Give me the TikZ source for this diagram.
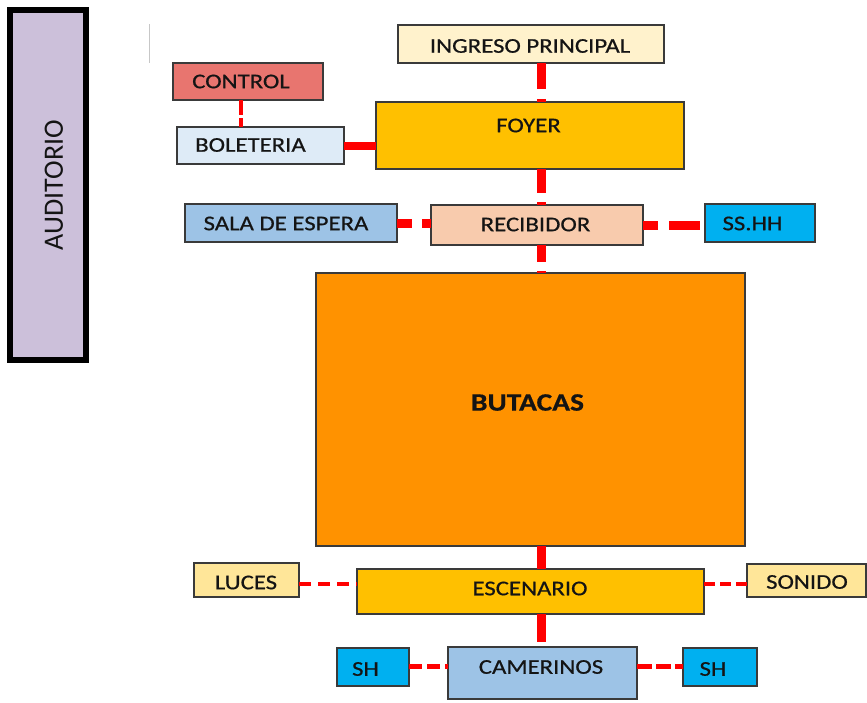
\documentclass[tikz,border=0pt]{standalone}
\usepackage{fontspec}
\setmainfont{Carlito}[FakeStretch=1.18, FakeBold=0.6]
\newfontfamily\audfont{Carlito}
\definecolor{txt}{HTML}{141414}
\definecolor{bord}{HTML}{3A3A3A}
\definecolor{cIngreso}{HTML}{FFF2CC}
\definecolor{cControl}{RGB}{232,117,111}
\definecolor{cBolet}{HTML}{DEEBF7}
\definecolor{cGold}{HTML}{FFC000}
\definecolor{cBlue}{HTML}{9DC3E6}
\definecolor{cRecib}{HTML}{F8CBAD}
\definecolor{cCyan}{HTML}{00B0F0}
\definecolor{cOrange}{HTML}{FF9200}
\definecolor{cLight}{HTML}{FFE699}
\definecolor{cAud}{HTML}{CCC0DA}
\definecolor{lred}{HTML}{FF0000}
\newcommand\bx[6]{\node[box, fill=#2, minimum width={(#5-#3)*1pt}, minimum height={(#6-#4)*1pt}] (#1) at ({(#3+#5)/2},{(#4+#6)/2}) {};}
\begin{document}
\begin{tikzpicture}[x=1pt,y=-1pt,
  box/.style={draw=bord, line width=1.4pt, inner sep=0pt, outer sep=0pt, rectangle},
  lbl/.style={inner sep=0pt, text=txt, font=\fontsize{21}{25}\selectfont},
  thickl/.style={draw=lred, line width=9pt},
  thinl/.style={draw=lred, line width=3.5pt},
  midl/.style={draw=lred, line width=5pt}]
\useasboundingbox (0,0) rectangle (867,702);
% side panel
\node[draw=black, line width=6pt, fill=cAud, inner sep=0pt, minimum width=76pt, minimum height=350pt] (aud) at (48,185) {};
\node[inner sep=0pt, text=txt, rotate=90, font=\audfont\fontsize{28}{32}\selectfont] (taud) at (54,185) {AUDITORIO};
\draw[black!22, line width=1pt] (149,24) -- (149,63);
% boxes
\bx{ingreso}{cIngreso}{398}{25}{664}{63}
\bx{control}{cControl}{173}{63}{323}{100}
\bx{bolet}{cBolet}{177}{127}{344}{164}
\bx{foyer}{cGold}{376}{102}{684}{169}
\bx{sala}{cBlue}{185}{204}{397}{242}
\bx{recib}{cRecib}{431}{205}{643}{245}
\bx{sshh}{cCyan}{705}{204}{815}{242}
\bx{butacas}{cOrange}{316}{273}{745}{546}
\bx{luces}{cLight}{194}{563}{299}{597}
\bx{escen}{cGold}{357}{569}{704}{614}
\bx{sonido}{cLight}{747}{564}{866}{597}
\bx{shA}{cCyan}{337}{648}{409}{686}
\bx{camer}{cBlue}{448}{647}{637}{699}
\bx{shB}{cCyan}{683}{648}{757}{686}
% labels
\node[lbl] (tingreso) at (530,46) {INGRESO PRINCIPAL};
\node[lbl] (tcontrol) at (241,81.5) {CONTROL};
\node[lbl] (tbolet) at (250.5,145) {BOLETERIA};
\node[lbl] (tfoyer) at (528.5,125.5) {FOYER};
\node[lbl] (tsala) at (286,223.5) {SALA DE ESPERA};
\node[lbl] (trecib) at (535.5,224.5) {RECIBIDOR};
\node[lbl] (tsshh) at (752.5,223.5) {SS.HH};
\node[lbl, font=\bfseries\fontsize{25}{29}\selectfont] (tbut) at (527.5,402.5) {BUTACAS};
\node[lbl] (tluces) at (246,582.5) {LUCES};
\node[lbl] (tescen) at (530,588.5) {ESCENARIO};
\node[lbl] (tsonido) at (807,582) {SONIDO};
\node[lbl] (tshA) at (365.5,669) {SH};
\node[lbl] (tcamer) at (541,667) {CAMERINOS};
\node[lbl] (tshB) at (713,669) {SH};
% connectors
\coordinate (ax) at (541,0);
\draw[thickl, dash pattern=on 26pt off 10pt] (ingreso.south -| ax) -- (foyer.north -| ax);
\draw[thickl, dash pattern=on 24pt off 9pt] (foyer.south -| ax) -- (recib.north -| ax);
\draw[thickl, dash pattern=on 17pt off 9pt] (recib.south -| ax) -- (butacas.north -| ax);
\draw[thickl] (butacas.south -| ax) -- (escen.north -| ax);
\draw[thickl, shorten >=5pt] (escen.south -| ax) -- (camer.north -| ax);
\draw[thinl, dash pattern=on 15pt off 3pt] (control.south -| 241,0) -- (bolet.north -| 241,0);
\draw[thickl, line width=8pt] (bolet.east) -- (bolet.east -| foyer.west);
\draw[thickl, dash pattern=on 15pt off 10pt] (sala.east) -- (sala.east -| recib.west);
\draw[thickl, dash pattern=on 15pt off 11pt on 31pt off 10pt] (recib.east) -- (recib.east -| sshh.west);
\draw[thinl, dash pattern=on 12pt off 7pt] (luces.east |- 0,584) -- (escen.west |- 0,584);
\draw[thinl, dash pattern=on 11pt off 5pt] (escen.east |- 0,584) -- (sonido.west |- 0,584);
\draw[midl, dash pattern=on 13pt off 5pt] (shA.east |- 0,666) -- (camer.west |- 0,666);
\draw[midl, dash pattern=on 15pt off 4pt] (camer.east |- 0,666) -- (shB.west |- 0,666);
\end{tikzpicture}
\end{document}
